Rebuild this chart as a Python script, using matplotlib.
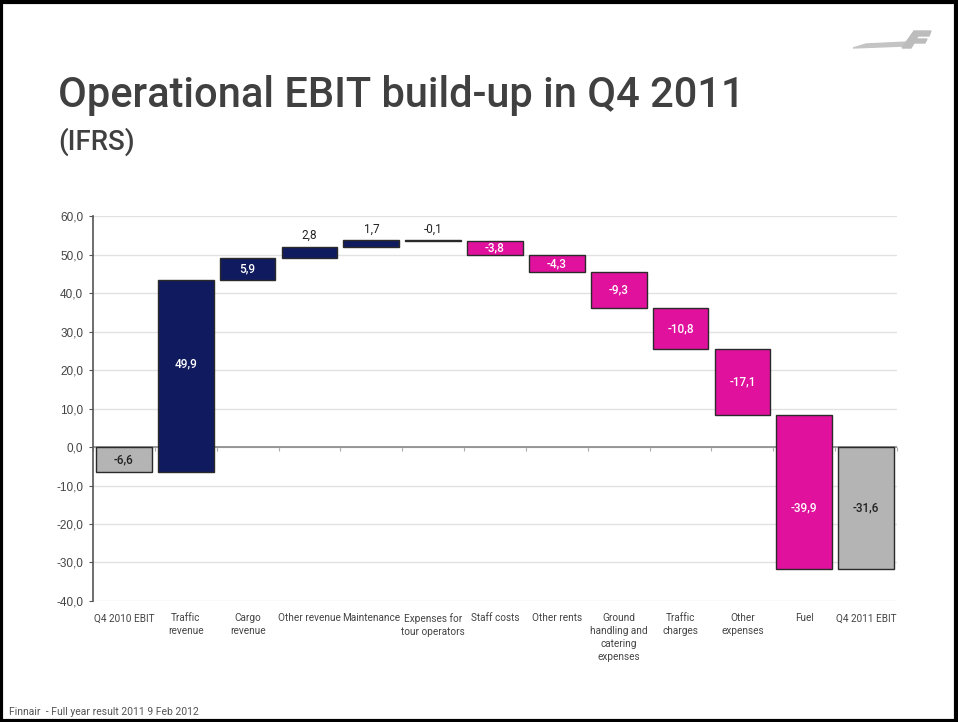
import numpy as np
import matplotlib.pyplot as plt
from matplotlib.patches import Rectangle, Polygon

# Q4 2010 -> Q4 2011 operational EBIT bridge (MEUR)
categories = ['Q4 2010 EBIT', 'Traffic\nrevenue', 'Cargo\nrevenue', 'Other revenue', 'Maintenance',
              'Expenses for\ntour operators', 'Staff costs', 'Other rents',
              'Ground\nhandling and\ncatering\nexpenses', 'Traffic\ncharges', 'Other\nexpenses',
              'Fuel', 'Q4 2011 EBIT']
changes = [-6.6, 49.9, 5.9, 2.8, 1.7, -0.1, -3.8, -4.3, -9.3, -10.8, -17.1, -39.9, -31.6]
kinds = ['total', 'up', 'up', 'up', 'up', 'down', 'down', 'down', 'down', 'down', 'down', 'down', 'total']

yticks = np.arange(-40, 61, 10)

navy = '#101b5f'
magenta = '#e0119d'
grey = '#b4b4b4'
colors = {'total': grey, 'up': navy, 'down': magenta}

# bar bottoms/tops
bottoms, tops = [], []
level = 0.0
for c, k in zip(changes, kinds):
    if k == 'total':
        bottoms.append(0.0)
        tops.append(c)
        level = c
    else:
        bottoms.append(level)
        level = round(level + c, 1)
        tops.append(level)
bottoms = np.array(bottoms)
tops = np.array(tops)

plt.rcParams['font.family'] = ['Liberation Sans', 'DejaVu Sans']

W, H = 958, 722
def px(pts):
    # pixel coords (y down) -> figure fraction
    return [[x / W, 1 - y / H] for x, y in pts]

fig = plt.figure(figsize=(W / 100, H / 100), dpi=100)
ax = fig.add_axes([0.0971, 0.1676, 0.8392, 0.5332])

x = np.arange(len(categories))
ax.bar(x, tops - bottoms, bottom=bottoms, width=0.9,
       color=[colors[k] for k in kinds], edgecolor='#2a2a2a', linewidth=1.0, zorder=3)

# value labels
for i, (c, k, b, t) in enumerate(zip(changes, kinds, bottoms, tops)):
    txt = ('%.1f' % c).replace('.', ',')
    lo, hi = min(b, t), max(b, t)
    if hi - lo < 3:
        ax.text(i, hi + 1.2, txt, ha='center', va='bottom', fontsize=8.5, color='#222222',
                family='Roboto', zorder=4)
        continue
    if lo < 0 < hi:
        # label sits on the larger side of the zero line
        ypos = hi / 2 if hi > -lo else lo / 2
    else:
        ypos = (lo + hi) / 2
    tc = '#222222' if k == 'total' else 'white'
    ax.text(i, ypos, txt, ha='center', va='center', fontsize=8.5, color=tc,
            family='Roboto', fontweight='medium', zorder=4)

ax.set_xlim(-0.5, len(categories) - 0.5)
ax.set_ylim(-40, 60)
ax.set_yticks(yticks)
ax.set_yticklabels([('%.1f' % v).replace('.', ',') for v in yticks], fontsize=8.5, color='#444444')
ax.set_xticks(x)
ax.set_xticklabels(categories, fontsize=7.2, color='#444444', linespacing=1.35, va='top',
                   family='Roboto')
ax.tick_params(axis='x', length=0, pad=9)
ax.tick_params(axis='y', length=3, color='#555555', pad=4)

ax.grid(axis='y', color='#e2e2e2', linewidth=1.0, zorder=0)
ax.axhline(0, color='#888888', linewidth=1.2, zorder=2)
for side in ['top', 'right', 'bottom']:
    ax.spines[side].set_visible(False)
ax.spines['left'].set_color('#555555')
ax.spines['left'].set_linewidth(1.2)

# category separators on the zero line
sec = ax.secondary_xaxis(0.4)
sec.set_xticks(np.arange(len(categories) + 1) - 0.5)
sec.set_xticklabels([])
sec.tick_params(length=3, color='#aaaaaa', direction='out')
sec.spines['bottom'].set_visible(False)

# headings
fig.text(58 / W, 1 - 107 / H, 'Operational EBIT build-up in Q4 2011', fontsize=30,
         family='Roboto', fontweight='medium', color='#404040', ha='left', va='baseline')
fig.text(58 / W, 1 - 150 / H, '(IFRS)', fontsize=20, family='Roboto', fontweight='medium',
         color='#404040', ha='left', va='baseline')
fig.text(9 / W, 1 - 715 / H, 'Finnair  - Full year result 2011 9 Feb 2012', fontsize=7.5,
         family='Roboto', color='#555555', ha='left', va='baseline')

# logo: swoosh + slanted F
fig.patches.append(Polygon(px([(853, 48), (905, 46), (908, 42), (866, 44)]),
                           closed=True, transform=fig.transFigure, color='#c4c4c4'))
fig.patches.append(Polygon(px([(902, 48), (911, 48), (914, 43), (925, 43), (927, 39), (916, 39),
                               (918, 36), (929, 36), (931, 31), (914, 31)]),
                           closed=True, transform=fig.transFigure, color='#bcbcbc'))

# slide frame
fig.patches.append(Rectangle((0.0015, 0.002), 0.996, 0.995, transform=fig.transFigure,
                             fill=False, edgecolor='black', linewidth=3))

fig.savefig('out.png', dpi=100)
